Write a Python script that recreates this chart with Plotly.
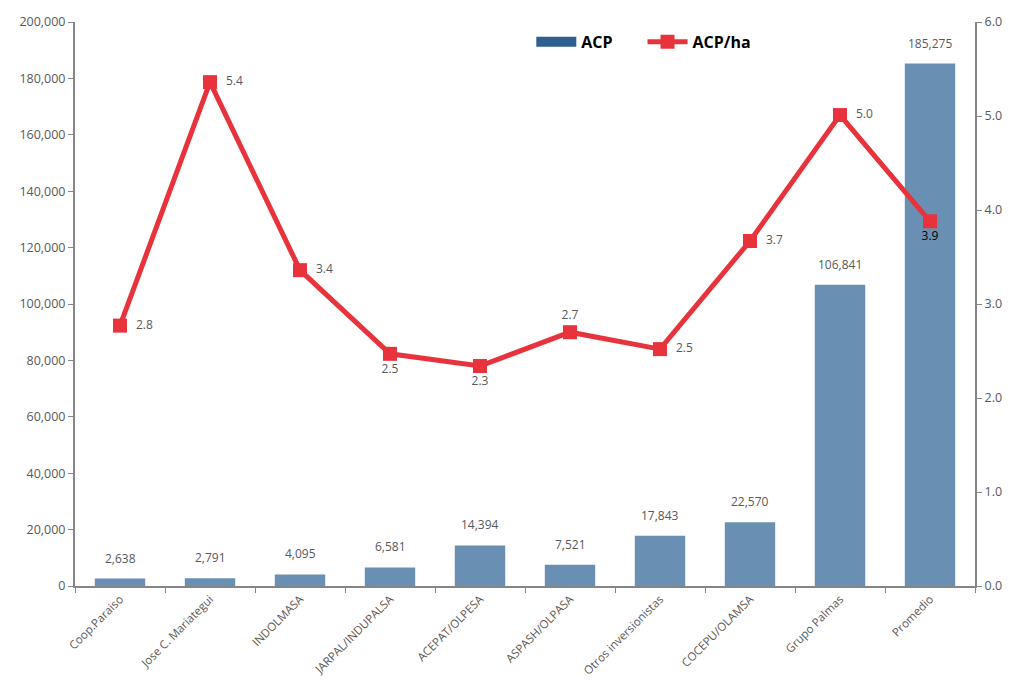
import plotly.graph_objects as go

categories = ["Coop.Paraiso", "Jose C. Mariategui", "INDOLMASA", "JARPAL/INDUPALSA",
              "ACEPAT/OLPESA", "ASPASH/OLPASA", "Otros inversionistas", "COCEPU/OLAMSA",
              "Grupo Palmas", "Promedio"]
acp = [2638, 2791, 4095, 6581, 14394, 7521, 17843, 22570, 106841, 185275]
acp_ha = [2.77, 5.36, 3.36, 2.47, 2.34, 2.70, 2.52, 3.67, 5.01, 3.88]
acp_ha_labels = ["2.8", "5.4", "3.4", "2.5", "2.3", "2.7", "2.5", "3.7", "5.0", "3.9"]
label_pos = ["middle right", "middle right", "middle right", "bottom center", "bottom center",
             "top center", "middle right", "middle right", "middle right", "bottom center"]
label_colors = ["#595959"] * 9 + ["#000000"]

font = "Open Sans, Noto Sans, sans-serif"
gray = "#595959"
axc = "#868686"
nb = "\u00a0"

fig = go.Figure()
fig.add_trace(go.Bar(
    x=categories, y=acp, name="ACP", showlegend=False,
    marker=dict(color="#6990b3", line=dict(width=0)),
))
# legend entry for bars (wide rectangle)
fig.add_trace(go.Scatter(x=[None], y=[None], name="<b>ACP</b>" + nb * 6, mode="lines",
                         line=dict(color="#2e5f8e", width=11)))
fig.add_trace(go.Scatter(
    x=categories, y=acp_ha, name="<b>ACP/ha</b>", yaxis="y2", mode="lines+markers+text",
    line=dict(color="#e8333c", width=5),
    marker=dict(symbol="square", size=14, color="#e8333c"),
    text=[nb * 2 + t if p == "middle right" else t for t, p in zip(acp_ha_labels, label_pos)],
    textposition=label_pos,
    textfont=dict(color=label_colors, size=12, family=font), cliponaxis=False,
))

for c, v in zip(categories, acp):
    fig.add_annotation(x=c, y=v, text=f"{v:,}", showarrow=False, yanchor="bottom",
                       yshift=10, font=dict(color=gray, size=12, family=font))

fig.update_layout(
    width=1013, height=680,
    margin=dict(l=75, r=38, t=22, b=94),
    plot_bgcolor="white", paper_bgcolor="white",
    font=dict(family=font, color=gray, size=12),
    bargap=0.44,
    showlegend=True,
    legend=dict(orientation="h", x=0.507, xanchor="left", y=0.995, yanchor="top",
                font=dict(size=16, color="#000000", family=font), bgcolor="rgba(0,0,0,0)",
                itemwidth=40, tracegroupgap=0),
    xaxis=dict(type="category", range=[-0.5, 9.5], tickangle=-45, ticks="outside",
               tickson="boundaries", ticklen=5, tickcolor=axc, showline=True,
               linecolor=axc, automargin=False, linewidth=2,
               tickfont=dict(size=11.5, color=gray), showgrid=False),
    yaxis=dict(range=[0, 200000], dtick=20000, tickformat=",", ticks="outside",
               ticklen=5, tickcolor=axc, showline=True, linecolor=axc, automargin=False,
               linewidth=2, showgrid=False, zeroline=False,
               tickfont=dict(size=12.5, color=gray)),
    yaxis2=dict(range=[0, 6], dtick=1, tickformat=".1f", overlaying="y", side="right",
                ticks="outside", ticklen=5, tickcolor=axc, showline=True, automargin=False,
                linecolor=axc, linewidth=2, showgrid=False, zeroline=False,
                tickfont=dict(size=12.5, color=gray)),
)
fig.write_html("out.html", config={"displayModeBar": False},
               post_script="document.body.style.margin='0px';document.body.style.overflow='hidden';")
